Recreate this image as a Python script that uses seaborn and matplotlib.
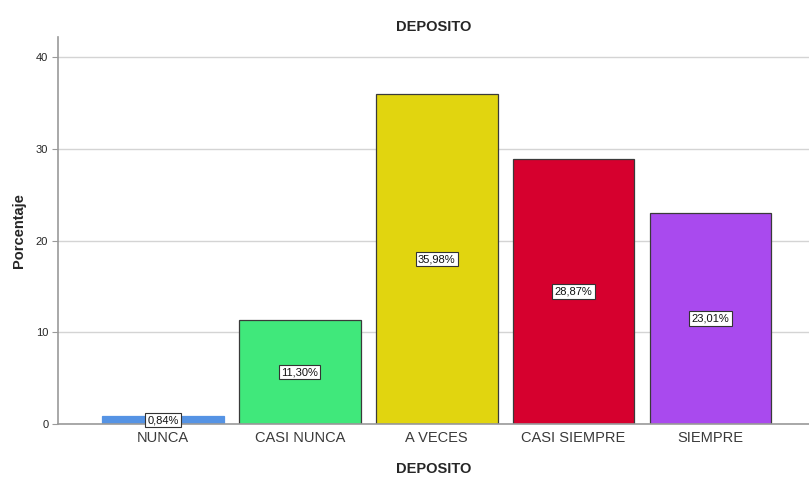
import matplotlib
matplotlib.use("Agg")
import matplotlib.pyplot as plt
import seaborn as sns
import pandas as pd

# ----------------------
# Data
# ----------------------
categories = ["NUNCA", "CASI NUNCA", "A VECES", "CASI SIEMPRE", "SIEMPRE"]
porcentajes = [0.84, 11.30, 35.98, 28.87, 23.01]
etiquetas = ["0,84%", "11,30%", "35,98%", "28,87%", "23,01%"]
colores = ["#5593E4", "#40E87B", "#E1D50F", "#D6002E", "#A94AEE"]

df = pd.DataFrame({"DEPOSITO": categories, "Porcentaje": porcentajes})

# ----------------------
# Plot
# ----------------------
sns.set_style("white")
plt.rcParams["font.family"] = ["Liberation Sans", "DejaVu Sans"]

fig = plt.figure(figsize=(8.09, 4.78), dpi=100)
ax = fig.add_axes([0.0717, 0.113, 0.9283, 0.8096])

sns.barplot(data=df, x="DEPOSITO", y="Porcentaje", hue="DEPOSITO",
            palette=colores, order=categories, hue_order=categories,
            width=0.89, edgecolor="#3a3a3a", linewidth=0.9,
            legend=False, ax=ax, saturation=1)

# NUNCA bar has no dark outline in the reference
ax.patches[0].set_edgecolor(colores[0])

for i, (v, lab) in enumerate(zip(porcentajes, etiquetas)):
    ax.text(i, v / 2, lab, ha="center", va="center", fontsize=8, color="#111111",
            bbox=dict(boxstyle="square,pad=0.2", facecolor="white",
                      edgecolor="#333333", linewidth=0.8))

ax.set_ylim(0, 42.2)
ax.set_xlim(-0.766, 4.72)
ax.set_yticks([0, 10, 20, 30, 40])
ax.yaxis.grid(True, color="#d4d4d4", linewidth=1)
ax.set_axisbelow(True)

for s in ["top", "right"]:
    ax.spines[s].set_visible(False)
ax.spines["left"].set_color("#9a9a9a")
ax.spines["bottom"].set_color("#9a9a9a")
ax.spines["left"].set_linewidth(1.2)
ax.spines["bottom"].set_linewidth(1.2)

ax.tick_params(axis="y", length=4, color="#9a9a9a", labelsize=8, pad=3, left=True)
ax.tick_params(axis="x", length=0, labelsize=10.5, pad=5, labelcolor="#3a3a3a")

ax.set_title("DEPOSITO", fontsize=10.5, fontweight="bold", pad=4)
ax.set_xlabel("DEPOSITO", fontsize=10.5, fontweight="bold", labelpad=12)
ax.set_ylabel("Porcentaje", fontsize=10.5, fontweight="bold", labelpad=7)

plt.savefig("out.png", dpi=100)
